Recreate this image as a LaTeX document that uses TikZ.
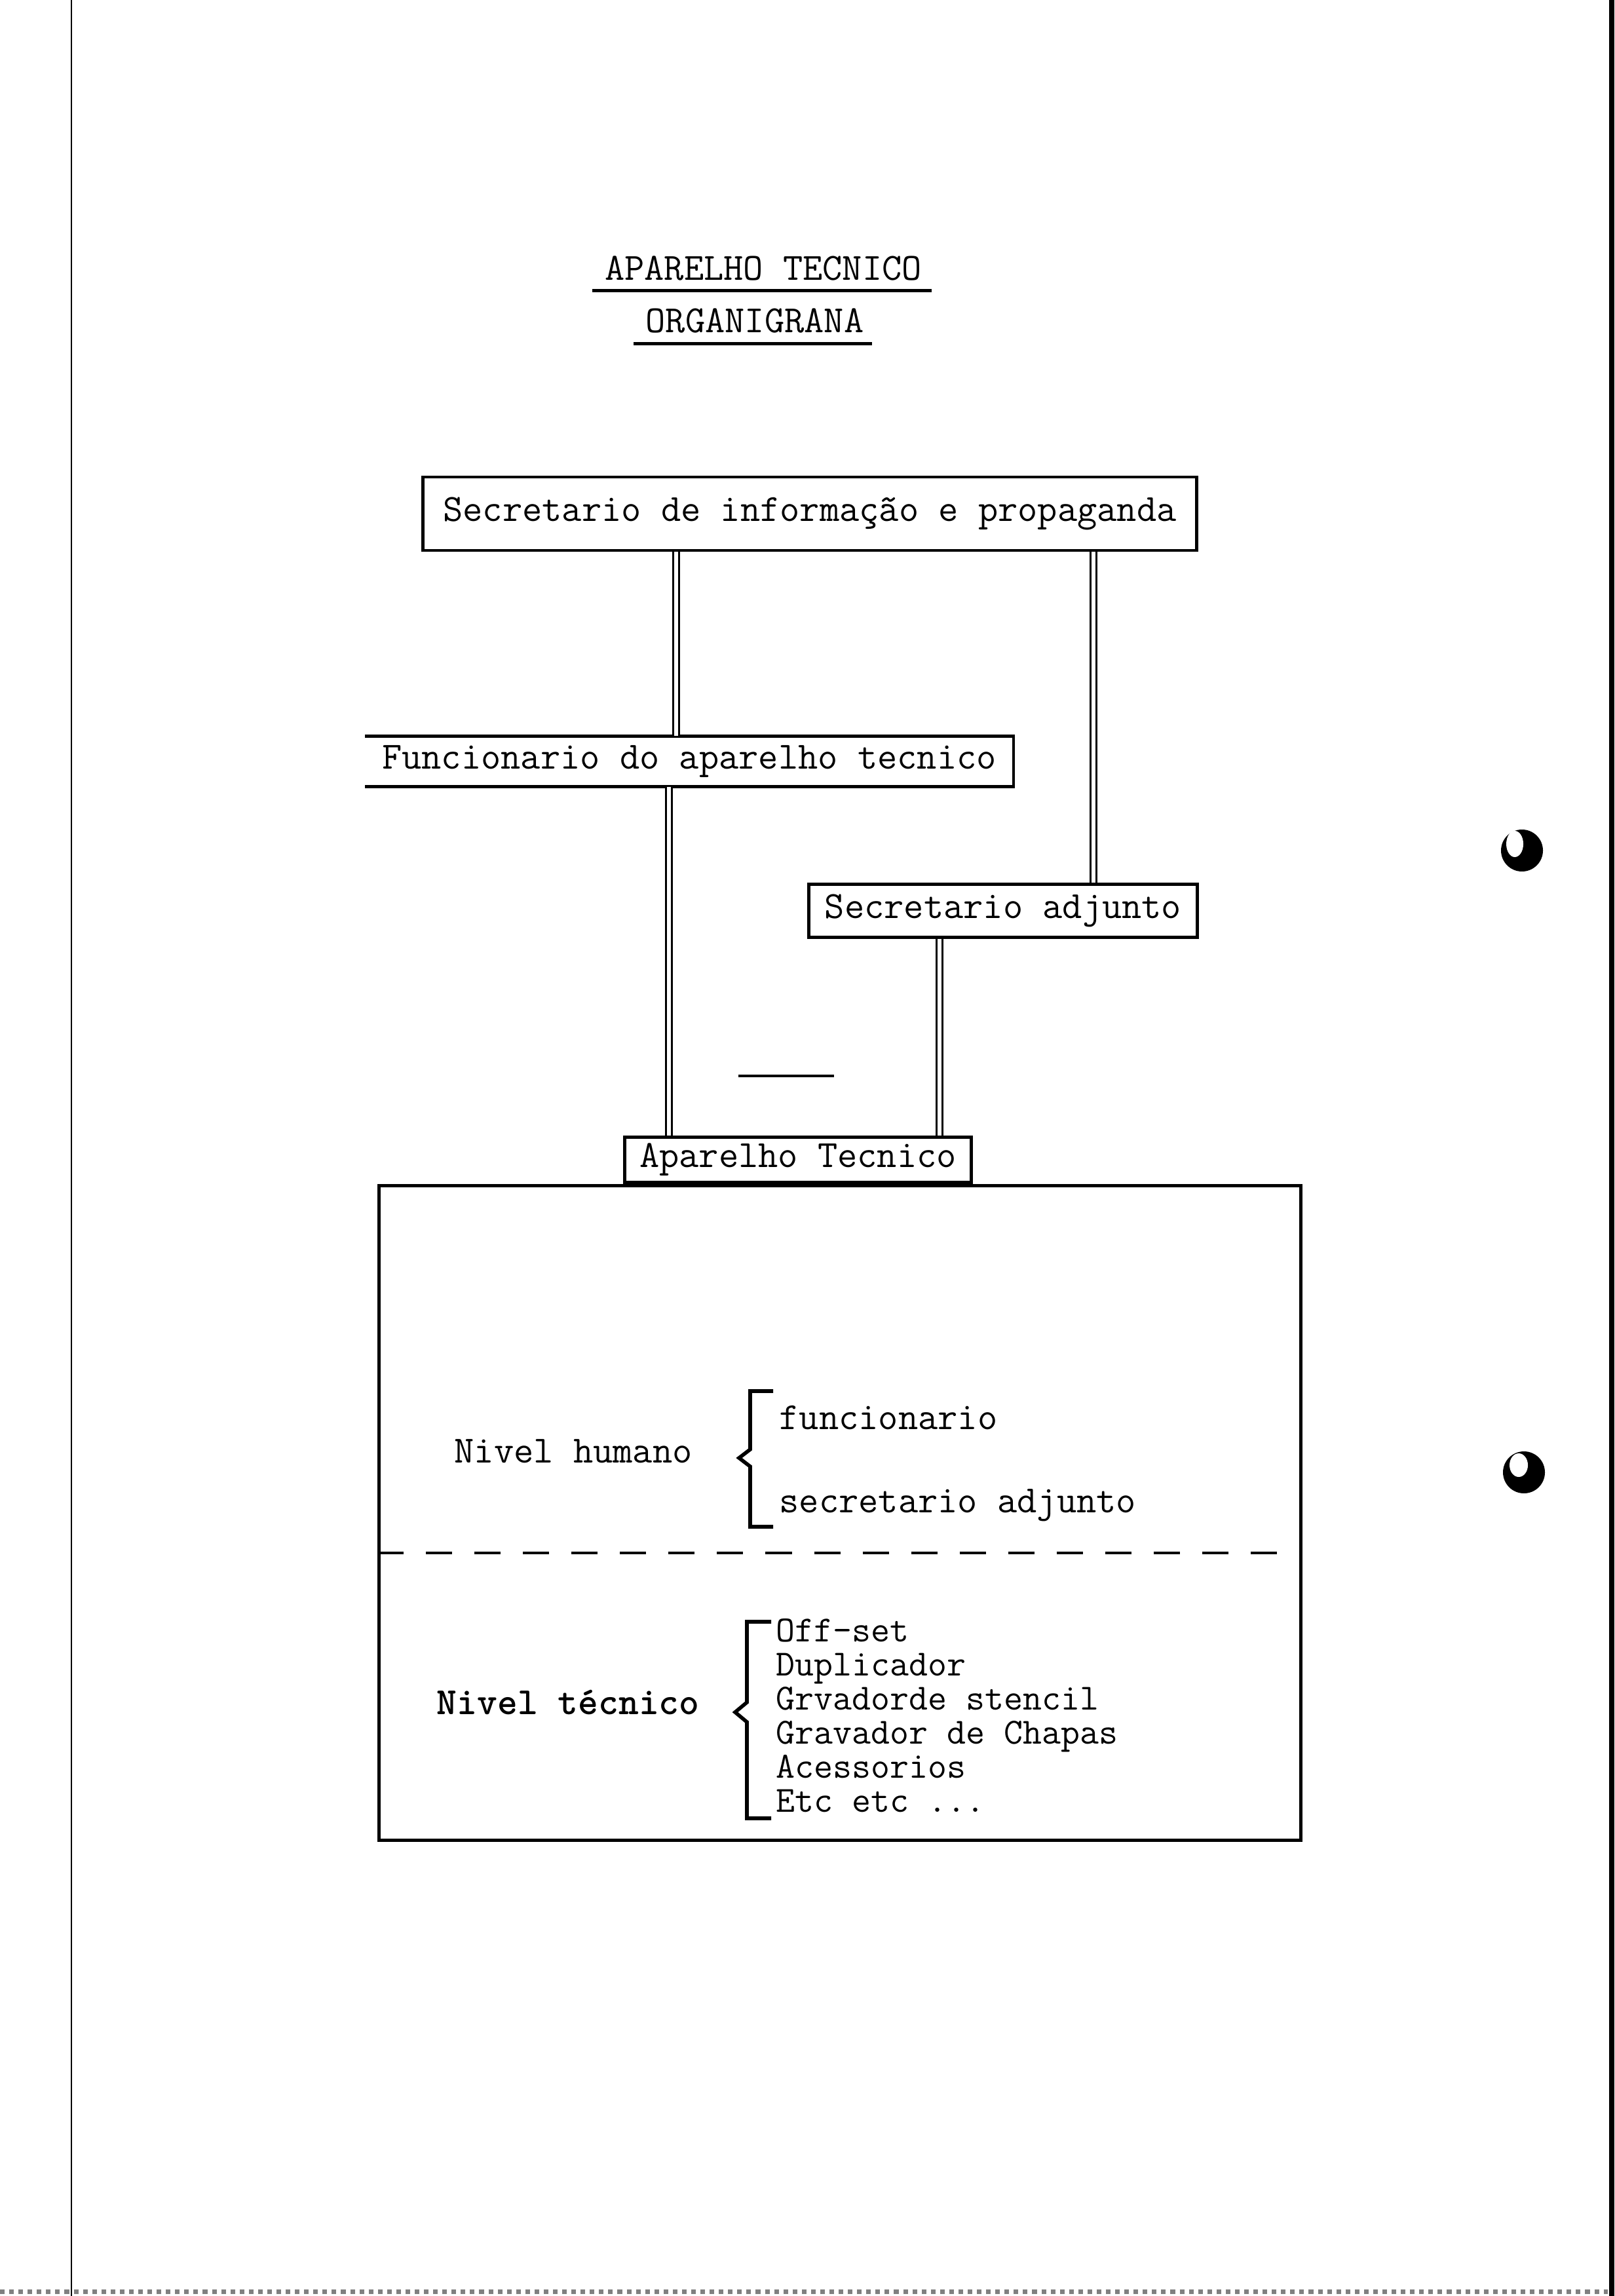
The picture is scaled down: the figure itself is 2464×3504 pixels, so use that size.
\documentclass[tikz,border=0pt]{standalone}
\usepackage{fontspec}
\usetikzlibrary{calc, positioning}

\begin{document}
\begin{tikzpicture}[x=0.01cm, y=-0.01cm,
  box/.style={draw, line width=1.4pt, inner sep=0pt},
  txt/.style={font=\ttfamily\fontsize{16.7pt}{14.2pt}\selectfont, inner sep=0pt},
  lst/.style={font=\ttfamily\fontsize{16pt}{14pt}\selectfont, inner sep=0pt, anchor=base west},
  dbl/.style={double, line width=0.8pt, double distance=1.6pt},
  brk/.style={line width=1.6pt}]
\useasboundingbox (0,0) rectangle (2464,3504);
% page edges and punch holes of the scan
\draw[line width=0.8pt] (109,0) -- (109,3504);
\fill (2456,0) rectangle (2464,3504);
\draw[gray, line width=2pt, dotted] (0,3497) -- (2454,3497);
\fill (2323,1298) circle[radius=32];
\fill[white] (2312,1288) ellipse[x radius=13, y radius=20];
\fill (2326,2247) circle[radius=32];
\fill[white] (2318,2236) ellipse[x radius=14, y radius=18];

% titles
\node[txt, anchor=base] (t1) at (1165,428) {APARELHO TECNICO};
\node[txt, anchor=base] (t2) at (1152,508) {ORGANIGRANA};
\draw[line width=1.4pt] ($(t1.south west)+(-18,14)$) -- ($(t1.south east)+(14,14)$);
\draw[line width=1.4pt] ($(t2.south west)+(-18,15)$) -- ($(t2.south east)+(12,15)$);

% organigram boxes
\node[box, txt, minimum width=11.81cm, minimum height=1.12cm] (sip) at (1236,784) {Secretario de informação e propaganda};
\node[txt, minimum width=9.88cm, minimum height=0.76cm] (func) at (1052,1162) {Funcionario do aparelho tecnico};
\draw[line width=1.4pt] (func.north west) -- (func.north east) -- (func.south east) -- (func.south west);
\node[box, txt, minimum width=5.92cm, minimum height=0.81cm] (sadj) at (1531,1390) {Secretario adjunto};
\node[box, minimum width=14.06cm, minimum height=9.98cm] (grp) at (1282,2309) {};
\node[box, txt, minimum width=5.29cm, minimum height=0.69cm] (apt) at (1218,1770) {Aparelho Tecnico};

% double links
\coordinate (l1) at (1032,0);
\coordinate (l2) at (1021,0);
\coordinate (r1) at (1669,0);
\coordinate (r2) at (1434,0);
\draw[dbl] (sip.south -| l1) -- (func.north -| l1);
\draw[dbl] (func.south -| l2) -- (apt.north -| l2);
\draw[dbl] (sip.south -| r1) -- (sadj.north -| r1);
\draw[dbl] (sadj.south -| r2) -- (apt.north -| r2);
\draw[line width=1.4pt] (1127,1642) -- (1273,1642);

% inside the big box
\coordinate (sep) at (0,2370);
\draw[line width=1.3pt, dash pattern=on 0.4cm off 0.34cm] (grp.west |- sep) -- (grp.east |- sep);

\node[txt, anchor=base west] (nh) at (693,2232) {Nivel humano};
\draw[brk] (1180,2123) -- (1145,2123) -- (1145,2212) -- (1128,2225) -- (1145,2238) -- (1145,2330) -- (1180,2330);
\node[txt, anchor=base west] (fn) at (1189,2181) {funcionario};
\node[txt, anchor=base west] (sa) at (1189,2308) {secretario adjunto};

\node[txt, anchor=base west] (nt) at (666,2616) {\bfseries Nivel técnico};
\draw[brk] (1177,2475) -- (1140,2475) -- (1140,2598) -- (1122,2613) -- (1140,2628) -- (1140,2775) -- (1177,2775);
\foreach \eqp [count=\i] in {Off-set, Duplicador, Grvadorde stencil, Gravador de Chapas, Acessorios, Etc etc .\kern0pt.\kern0pt.}
  \node[lst] (eq\i) at (1184, {2453+52*\i}) {\eqp};
\end{tikzpicture}
\end{document}
